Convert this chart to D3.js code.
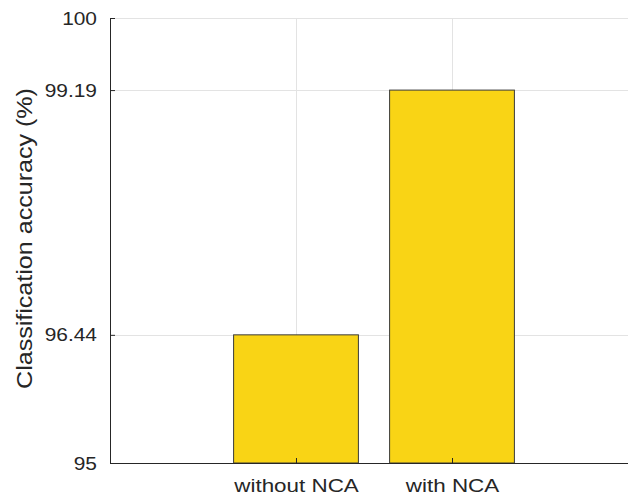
<!DOCTYPE html>
<html>
<head>
<meta charset="utf-8">
<script src="https://cdn.jsdelivr.net/npm/d3@7"></script>
<style>
  html, body { margin: 0; padding: 0; background: #fff; }
  svg { display: block; font-family: "Liberation Sans", Arial, sans-serif; }
</style>
</head>
<body>
<svg id="chart" width="628" height="500"></svg>
<script>
// Classification accuracy with and without NCA feature selection
const categories = ["without NCA", "with NCA"];
const accuracy = [96.44, 99.19];
const yTicks = [95, 96.44, 99.19, 100];

const plotLeft = 110, plotRight = 628, plotTop = 18, plotBottom = 463;
const ink = "#262626";
const font = "'Liberation Sans', Arial, sans-serif";

const svg = d3.select("#chart");

// category positions 1..n on a numeric axis
const x = d3.scaleLinear().domain([-0.1923, 3.1282]).range([plotLeft, plotRight]);
const y = d3.scaleLinear().domain([95, 100]).range([plotBottom, plotTop]);
const barW = 0.8;

// grid
const grid = svg.append("g").attr("stroke", "#e3e3e3").attr("stroke-width", 1);
grid.selectAll("line.h").data(yTicks).join("line")
  .attr("x1", plotLeft).attr("x2", plotRight)
  .attr("y1", d => Math.round(y(d)) + 0.5).attr("y2", d => Math.round(y(d)) + 0.5);
grid.selectAll("line.v").data(categories).join("line")
  .attr("x1", (d, i) => Math.round(x(i + 1)) + 0.5).attr("x2", (d, i) => Math.round(x(i + 1)) + 0.5)
  .attr("y1", plotTop).attr("y2", plotBottom);

// bars
svg.append("g").selectAll("rect").data(accuracy).join("rect")
  .attr("x", (d, i) => x(i + 1 - barW / 2))
  .attr("width", (d, i) => x(i + 1 + barW / 2) - x(i + 1 - barW / 2))
  .attr("y", d => y(d))
  .attr("height", d => y(95) - y(d))
  .attr("fill", "#F9D415")
  .attr("stroke", "#3a3a3a")
  .attr("stroke-width", 1);

// y axis (ticks pointing inward)
const yScaleX = 1.1;
const yAxis = d3.axisLeft(y).tickValues(yTicks).tickSize(-5).tickPadding(13)
  .tickFormat(d => d3.format("")(d));
const gy = svg.append("g").attr("transform", `translate(${plotLeft},0)`).call(yAxis);
gy.select(".domain").attr("stroke", ink).attr("d", `M0.5,${plotTop}V${plotBottom}`);
gy.selectAll(".tick line").attr("stroke", ink);
gy.selectAll(".tick text").attr("fill", ink).attr("font-size", 19)
  .attr("font-family", font)
  .attr("x", -13 / yScaleX)
  .attr("transform", `scale(${yScaleX},1)`);

// x axis (ticks pointing inward)
const xAxis = d3.axisBottom(x).tickValues([1, 2]).tickSize(-5).tickPadding(16)
  .tickFormat(d => categories[d - 1]);
const gx = svg.append("g").attr("transform", `translate(0,${plotBottom})`).call(xAxis);
gx.select(".domain").attr("stroke", ink).attr("d", `M${plotLeft},0.5H${plotRight}`);
gx.selectAll(".tick line").attr("stroke", ink);
gx.selectAll(".tick text").attr("fill", ink).attr("font-size", 19)
  .attr("font-family", font)
  .attr("transform", "scale(1.18,1)");

// y label
svg.append("text")
  .attr("transform", `translate(32,${(plotTop + plotBottom) / 2 - 2}) rotate(-90) scale(1.14,1)`)
  .attr("text-anchor", "middle")
  .attr("fill", ink)
  .attr("font-size", 22)
  .attr("font-family", font)
  .text("Classification accuracy (%)");
</script>
</body>
</html>
